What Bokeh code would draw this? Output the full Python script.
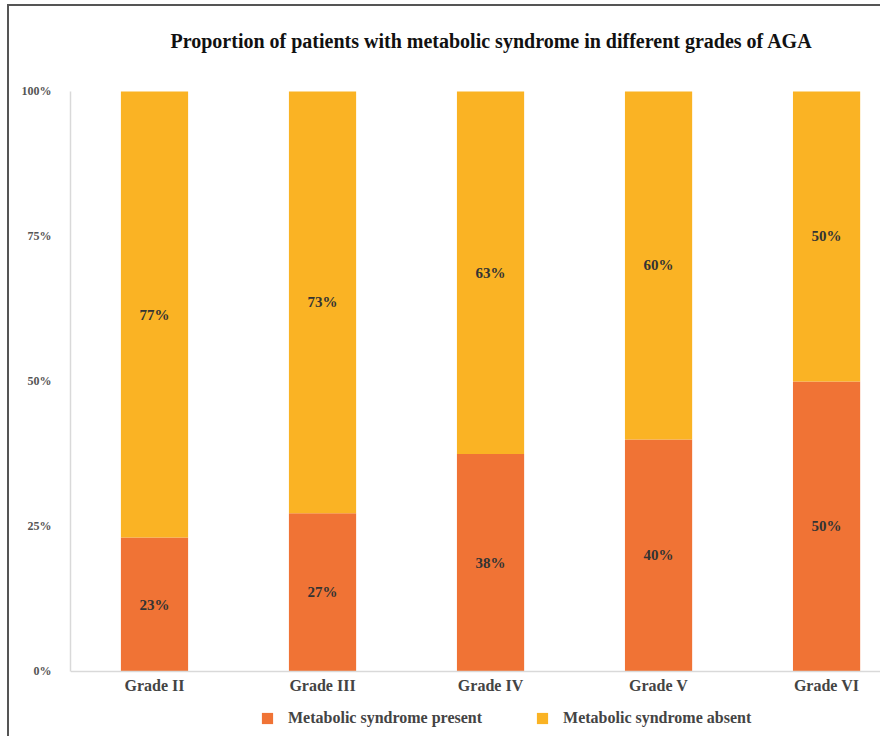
from bokeh.plotting import figure
from bokeh.models import (ColumnDataSource, Range1d, FixedTicker, Legend, LegendItem,
                          LabelSet)
from bokeh.embed import file_html
from bokeh.resources import INLINE

grades = ["Grade II", "Grade III", "Grade IV", "Grade V", "Grade VI"]
present = [23.1, 27.3, 37.5, 40.0, 50.0]
absent = [76.9, 72.7, 62.5, 60.0, 50.0]
y_ticks = [0, 25, 50, 75, 100]
y_tick_labels = ["0%", "25%", "50%", "75%", "100%"]
series_names = ["Metabolic syndrome present", "Metabolic syndrome absent"]
colors = ["#F07335", "#FAB324"]

SERIF = "Liberation Serif"

xs = list(range(len(grades)))
src = ColumnDataSource(dict(
    x=xs,
    present=present,
    absent=absent,
    p_mid=[v / 2 for v in present],
    a_mid=[p + a / 2 for p, a in zip(present, absent)],
    p_lab=["%d%%" % int(v + 0.5) for v in present],
    a_lab=["%d%%" % int(v + 0.5) for v in absent],
))

# frame extends above 100% and below 0% so that the legend fits inside it
p = figure(frame_width=810, frame_height=677, output_backend="svg", toolbar_location=None,
           x_range=Range1d(-0.5, 4.321), y_range=Range1d(-11.207, 105.517),
           min_border_left=61, min_border_right=0, min_border_top=53, min_border_bottom=0)
p.styles = {"border-left": "2px solid #555555", "border-top": "2px solid #555555",
            "margin-left": "7px", "margin-top": "4px"}

renderers = p.vbar_stack(["present", "absent"], x="x", width=0.4, source=src,
                         color=colors, line_color=None)

for ycol, tcol in (("p_mid", "p_lab"), ("a_mid", "a_lab")):
    p.add_layout(LabelSet(x="x", y=ycol, text=tcol, source=src, text_align="center",
                          text_baseline="middle", text_font=SERIF, text_font_style="bold",
                          text_font_size="15px", text_color="#333333"))

# title
p.title.text = "Proportion of patients with metabolic syndrome in different grades of AGA"
p.title.text_font = SERIF
p.title.text_font_size = "20px"
p.title.text_font_style = "bold"
p.title.text_color = "#111111"
p.title.align = "left"
p.title.offset = 100
p.title.standoff = 15

# axes
p.grid.visible = False
p.outline_line_color = None
p.background_fill_color = "white"
p.border_fill_color = "white"

p.xaxis.fixed_location = 0
p.xaxis.ticker = FixedTicker(ticks=xs)
p.xaxis.major_label_overrides = {i: g for i, g in enumerate(grades)}
p.xaxis.major_tick_line_color = None
p.xaxis.minor_tick_line_color = None
p.xaxis.axis_line_color = "#D9D9D9"
p.xaxis.axis_line_width = 1.5
p.xaxis.major_label_text_font = SERIF
p.xaxis.major_label_text_font_style = "bold"
p.xaxis.major_label_text_font_size = "16px"
p.xaxis.major_label_text_color = "#444444"
p.xaxis.major_label_standoff = 0

p.yaxis.ticker = FixedTicker(ticks=y_ticks)
p.yaxis.bounds = (0, 100)
p.yaxis.major_label_overrides = {t: l for t, l in zip(y_ticks, y_tick_labels)}
p.yaxis.major_tick_line_color = None
p.yaxis.minor_tick_line_color = None
p.yaxis.axis_line_color = "#D9D9D9"
p.yaxis.axis_line_width = 1.5
p.yaxis.major_label_text_font = SERIF
p.yaxis.major_label_text_font_style = "bold"
p.yaxis.major_label_text_font_size = "12px"
p.yaxis.major_label_text_color = "#555555"
p.yaxis.major_label_standoff = 13

legend = Legend(items=[LegendItem(label=series_names[i], renderers=[renderers[i]])
                       for i in range(2)],
                orientation="horizontal", location=(190, 9),
                label_text_font=SERIF, label_text_font_style="bold",
                label_text_font_size="16px", label_text_color="#444444",
                glyph_width=14, glyph_height=14, label_standoff=14, spacing=53,
                border_line_color=None, background_fill_alpha=0, padding=4, margin=0)
p.add_layout(legend, "center")

open("out.html", "w").write(file_html(p, INLINE))
